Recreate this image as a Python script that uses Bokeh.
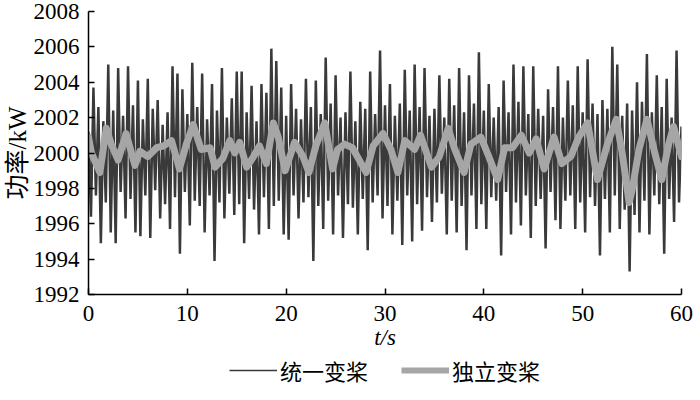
from bokeh.plotting import figure
from bokeh.layouts import column
from bokeh.models import Range1d, Legend, LegendItem, FixedTicker
from bokeh.embed import file_html
from bokeh.resources import INLINE

# ---------------- data ----------------
x_ticks = [0, 10, 20, 30, 40, 50, 60]
y_ticks = [1992, 1994, 1996, 1998, 2000, 2002, 2004, 2006, 2008]

# 统一变桨: power (kW), one value every 0.25 s, rows = one second
dark_step = 0.25
dark_vals = [
    2001.2, 1996.4, 2003.7, 1997.6,
    2002.6, 1994.9, 2001.8, 1997.2,
    2005.0, 1995.5, 2002.4, 1994.9,
    2004.8, 1997.8, 2002.1, 1996.3,
    2004.9, 1997.4, 2002.7, 1995.5,
    2004.1, 1995.3, 2001.9, 1997.6,
    2004.2, 1995.2, 2002.5, 1997.9,
    2003.0, 1996.3, 2001.6, 1997.1,
    2002.3, 1995.7, 2004.9, 1997.5,
    2004.5, 1994.3, 2003.6, 1997.8,
    2002.2, 1995.9, 2005.1, 1997.3,
    2002.6, 1997.0, 2004.5, 1995.5,
    2001.9, 1997.6, 2003.9, 1993.9,
    2002.4, 1997.2, 2004.8, 1996.3,
    2002.0, 1997.7, 2003.1, 1996.5,
    2004.6, 1997.1, 2004.6, 1994.9,
    2002.3, 1997.4, 2003.8, 1996.8,
    2001.8, 1995.4, 2003.9, 1997.5,
    2003.4, 1995.7, 2005.9, 1997.0,
    2005.2, 1997.3, 2003.7, 1995.4,
    2002.1, 1995.1, 2003.9, 1997.6,
    2002.5, 1996.3, 2001.9, 1997.2,
    2004.2, 1997.5, 2002.6, 1993.9,
    2004.1, 1997.0, 2002.2, 1995.7,
    2005.4, 1997.3, 2002.8, 1995.4,
    2004.4, 1997.6, 2002.0, 1995.2,
    2002.3, 1997.1, 2004.6, 1996.9,
    2001.8, 1995.4, 2002.9, 1997.4,
    2002.5, 1994.5, 2004.6, 1997.2,
    2002.2, 1997.6, 2005.8, 1996.3,
    2002.7, 1997.0, 2003.9, 1995.4,
    2002.1, 1997.3, 2002.8, 1994.8,
    2004.7, 1997.6, 2002.4, 1995.0,
    2005.0, 1997.1, 2002.6, 1995.6,
    2004.8, 1997.5, 2002.1, 1996.1,
    2002.5, 1997.2, 2004.4, 1997.7,
    2002.0, 1995.4, 2004.2, 1997.3,
    2002.7, 1995.5, 2004.8, 1997.0,
    2002.3, 1994.5, 2004.4, 1997.6,
    2002.8, 1995.7, 2005.7, 1997.1,
    2002.4, 1995.7, 2003.9, 1997.5,
    2002.0, 1997.3, 2002.6, 1994.2,
    2004.1, 1997.8, 2002.3, 1995.4,
    2005.0, 1997.2, 2002.9, 1995.9,
    2004.9, 1997.6, 2002.2, 1995.2,
    2004.9, 1997.0, 2002.5, 1997.4,
    2002.1, 1994.6, 2003.6, 1997.8,
    2002.6, 1996.2, 2004.9, 1995.7,
    2002.0, 1997.3, 2004.1, 1997.6,
    2002.7, 1995.7, 2004.9, 1997.2,
    2002.3, 1995.5, 2005.3, 1997.5,
    2002.8, 1997.0, 2002.2, 1994.2,
    2003.0, 1997.4, 2002.5, 1995.5,
    2006.0, 1997.6, 2005.0, 1995.7,
    2002.1, 1996.8, 2002.8, 1993.3,
    2002.4, 1996.5, 2004.0, 1995.5,
    2002.9, 1997.3, 2005.6, 1995.4,
    2002.3, 1997.6, 2004.4, 1997.1,
    2002.6, 1994.3, 2004.2, 1997.4,
    2002.0, 1996.1, 2005.8, 1997.2,
    2001.5,
]
dark_t = [i * dark_step for i in range(len(dark_vals))]

# 独立变桨: time (s) and power (kW)
light_t = [0, 0.3, 1.15, 1.8, 2.3, 3.0, 3.8, 4.7, 5.2, 6.0,
           6.9, 7.6, 8.4, 9.2, 9.9, 10.6, 11.4, 12.3, 12.8, 13.6,
           14.3, 14.8, 15.3, 16.0, 16.7, 17.3, 18.0, 18.7, 19.2, 19.9,
           20.85, 21.7, 22.3, 23.0, 23.9, 24.7, 25.2, 25.9, 26.7, 27.6,
           28.1, 28.8, 29.8, 30.6, 31.3, 32.0, 33.0, 33.6, 34.7, 35.5,
           36.4, 37.0, 38.0, 38.7, 39.7, 40.5, 41.4, 42.1, 42.9, 43.8,
           44.6, 45.3, 46.1, 47.1, 47.9, 48.8, 49.6, 50.5, 51.5, 52.5,
           53.4, 54.0, 54.7, 55.0, 55.7, 56.5, 57.3, 58.0, 58.7, 59.2,
           60.0]
light_vals = [2000.9, 2000.0, 1998.9, 2001.4, 2000.5, 1999.6, 2001.1, 1999.3, 2000.1, 1999.8,
              2000.3, 2000.4, 2000.7, 1999.1, 2000.5, 2001.6, 2000.2, 2000.3, 1999.2, 1999.7,
              2000.7, 2000.0, 2000.6, 1999.2, 1999.8, 2000.4, 1999.4, 2001.7, 2000.9, 1999.0,
              2000.6, 1999.8, 1998.9, 2000.4, 2001.7, 1999.1, 2000.2, 2000.5, 2000.3, 1999.4,
              1998.9, 2000.4, 2001.1, 2000.2, 1998.9, 2000.7, 2000.2, 2001.0, 1999.2, 1999.8,
              2001.4, 2000.3, 1998.9, 2000.5, 2000.9, 1999.8, 1998.5, 2000.3, 2000.3, 2001.0,
              2000.0, 2000.8, 1999.1, 2000.9, 1999.4, 1999.8, 2000.9, 2001.7, 1998.5, 2000.5,
              2001.9, 2000.0, 1997.2, 1997.9, 2000.2, 2001.9, 2000.0, 1998.5, 2000.5, 2001.5,
              1999.8]

series_names = ["统一变桨", "独立变桨"]
DARK = "#3a3a3a"
LIGHT = "#a6a6a6"

# ---------------- main figure ----------------
SERIF = "Liberation Serif, Noto Sans CJK SC"

p = figure(frame_width=593, frame_height=283,
           x_range=Range1d(0, 60), y_range=Range1d(1992, 2008),
           output_backend="svg", toolbar_location=None,
           min_border_left=79, min_border_right=12,
           min_border_top=11, min_border_bottom=0)
p.outline_line_color = None
p.grid.visible = False
p.background_fill_color = "white"
p.border_fill_color = "white"

p.line(dark_t, dark_vals, line_color=DARK, line_width=2.5)
p.line(light_t, light_vals, line_color=LIGHT, line_width=7,
       line_join="round", line_cap="round")

for ax in (p.xaxis[0], p.yaxis[0]):
    ax.axis_line_color = "black"
    ax.axis_line_width = 1.5
    ax.major_tick_line_color = "black"
    ax.major_tick_line_width = 1.5
    ax.major_tick_in = 6
    ax.major_tick_out = 0
    ax.minor_tick_line_color = None
    ax.major_label_text_font = SERIF
    ax.major_label_text_font_size = "23px"
    ax.major_label_text_color = "black"
    ax.axis_label_text_font = SERIF
    ax.axis_label_text_font_size = "23px"
    ax.axis_label_text_font_style = "normal"
    ax.axis_label_text_color = "black"

p.xaxis.ticker = FixedTicker(ticks=x_ticks)
p.yaxis.ticker = FixedTicker(ticks=y_ticks)
p.xaxis.major_label_standoff = 11
p.yaxis.major_label_standoff = 9
p.xaxis.axis_label = "t/s"
p.xaxis.axis_label_text_font_style = "italic"
p.xaxis.axis_label_standoff = 1
p.yaxis.axis_label = "功率/kW"
p.yaxis.axis_label_text_font_size = "25px"
p.yaxis.axis_label_standoff = 0

# ---------------- legend strip ----------------
lg = figure(width=684, height=35, x_range=Range1d(0, 1), y_range=Range1d(0, 1),
            output_backend="svg", toolbar_location=None,
            min_border_left=0, min_border_right=0, min_border_top=0, min_border_bottom=0)
lg.axis.visible = False
lg.grid.visible = False
lg.outline_line_color = None
lg.background_fill_color = "white"
lg.border_fill_color = "white"
# legend keys only: these sit outside the strip's ranges, so nothing is drawn
k_dark = lg.line([2, 3], [2, 3], line_color=DARK, line_width=1.5)
k_light = lg.line([2, 3], [2, 3], line_color=LIGHT, line_width=6)

legend = Legend(items=[LegendItem(label=series_names[0], renderers=[k_dark]),
                       LegendItem(label=series_names[1], renderers=[k_light])],
                orientation="horizontal", location=(141, 1),
                label_text_font="Noto Sans CJK SC", label_text_font_size="22px",
                label_text_color="black", label_height=20,
                glyph_width=48, glyph_height=20, label_standoff=3,
                spacing=33, margin=0, padding=0,
                border_line_color=None, background_fill_alpha=0)
lg.add_layout(legend, "center")

layout = column(p, lg, spacing=0)

open("out.html", "w").write(file_html(layout, INLINE))
